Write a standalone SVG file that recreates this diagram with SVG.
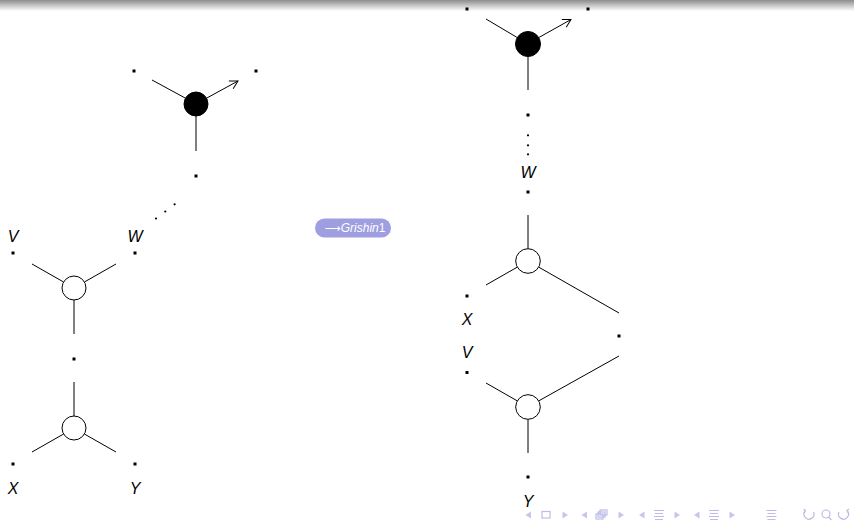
<svg xmlns="http://www.w3.org/2000/svg" width="854" height="522" viewBox="0 0 854 522">
<defs>
<linearGradient id="topbar" x1="0" y1="0" x2="0" y2="1">
<stop offset="0" stop-color="#8c8c8c"/>
<stop offset="1" stop-color="#ffffff"/>
</linearGradient>
<marker id="arr" markerWidth="12" markerHeight="12" refX="9" refY="6" orient="auto" markerUnits="userSpaceOnUse">
<path d="M1,1.5 L9,6 L1,10.5" fill="none" stroke="#000" stroke-width="1"/>
</marker>
</defs>
<style>
.e{stroke:#000;stroke-width:1;fill:none}
.w{fill:#fff;stroke:#000;stroke-width:1}
.b{fill:#000;stroke:#000;stroke-width:1}
.d{fill:#000}
.l{font-family:"Liberation Sans",Arial,sans-serif;font-style:italic;font-size:16px;text-anchor:middle;fill:#000}
.nav{fill:#c6c6ec;stroke:none}
.navs{fill:none;stroke:#bcbce8;stroke-width:1.2}
</style>
<rect x="0" y="0" width="854" height="11" fill="url(#topbar)"/>

<g id="connectors">
<line class="e" x1="152" y1="80" x2="185.5" y2="98.2"/>
<line class="e" x1="206.5" y1="98.2" x2="238" y2="81" marker-end="url(#arr)"/>
<line class="e" x1="196" y1="116" x2="196" y2="151"/>
<line class="e" x1="32" y1="264" x2="63.6" y2="282"/>
<line class="e" x1="116" y1="264" x2="84.4" y2="282"/>
<line class="e" x1="74" y1="300" x2="74" y2="334"/>
<line class="e" x1="74" y1="382" x2="74" y2="416"/>
<line class="e" x1="63.6" y1="434" x2="32" y2="452"/>
<line class="e" x1="84.4" y1="434" x2="116" y2="452"/>
<line class="e" x1="486" y1="19" x2="517.3" y2="37.6"/>
<line class="e" x1="538.7" y1="37.6" x2="571" y2="19.5" marker-end="url(#arr)"/>
<line class="e" x1="528" y1="56.5" x2="528" y2="90"/>
<line class="e" x1="528" y1="215" x2="528" y2="248.7"/>
<line class="e" x1="517.3" y1="267.1" x2="486" y2="285"/>
<line class="e" x1="538.7" y1="267.1" x2="619" y2="313"/>
<line class="e" x1="486" y1="383" x2="517.3" y2="400.9"/>
<line class="e" x1="538.7" y1="400.9" x2="619" y2="356"/>
<line class="e" x1="528" y1="419.3" x2="528" y2="453"/>
</g>

<g id="n-left-top"><circle class="b" cx="196" cy="104" r="12"/></g>
<g id="n-left-mid"><circle class="w" cx="74" cy="288" r="12"/></g>
<g id="n-left-bot"><circle class="w" cx="74" cy="428" r="12"/></g>
<g id="n-right-top"><circle class="b" cx="528" cy="44" r="12.5"/></g>
<g id="n-right-mid"><circle class="w" cx="528" cy="261" r="12.3"/></g>
<g id="n-right-bot"><circle class="w" cx="528" cy="407" r="12.3"/></g>

<g id="points">
<rect class="d" x="132.5" y="69.5" width="3" height="3"/>
<rect class="d" x="254.5" y="69.5" width="3" height="3"/>
<rect class="d" x="194.5" y="174.5" width="3" height="3"/>
<rect class="d" x="11.5" y="251.5" width="3" height="3"/>
<rect class="d" x="133.5" y="251.5" width="3" height="3"/>
<rect class="d" x="72.5" y="357.5" width="3" height="3"/>
<rect class="d" x="11.5" y="462.5" width="3" height="3"/>
<rect class="d" x="133.5" y="462.5" width="3" height="3"/>
<rect class="d" x="465.5" y="7.5" width="3" height="3"/>
<rect class="d" x="586.5" y="7.5" width="3" height="3"/>
<rect class="d" x="526.5" y="113.5" width="3" height="3"/>
<rect class="d" x="526.5" y="190.5" width="3" height="3"/>
<rect class="d" x="465.5" y="294.5" width="3" height="3"/>
<rect class="d" x="617.5" y="334.5" width="3" height="3"/>
<rect class="d" x="465.5" y="371" width="3" height="3"/>
<rect class="d" x="526.5" y="475.5" width="3" height="3"/>
<circle class="d" cx="156" cy="218.5" r="1.1"/>
<circle class="d" cx="165.3" cy="211.5" r="1.1"/>
<circle class="d" cx="174.6" cy="204.3" r="1.1"/>
<circle class="d" cx="528" cy="135.3" r="1.1"/>
<circle class="d" cx="528" cy="145.3" r="1.1"/>
<circle class="d" cx="528" cy="154.3" r="1.1"/>
</g>

<g id="labels">
<text class="l" x="13" y="242">V</text>
<text class="l" x="135" y="242">W</text>
<text class="l" x="13" y="494">X</text>
<text class="l" x="135" y="494">Y</text>
<text class="l" x="528" y="178">W</text>
<text class="l" x="467" y="325">X</text>
<text class="l" x="467" y="358">V</text>
<text class="l" x="528" y="507">Y</text>
</g>

<g id="button">
<rect x="315" y="218.5" width="76" height="19" rx="9.5" fill="#9e9ee0"/>
<text x="325" y="232" font-family="'Liberation Sans','DejaVu Sans',sans-serif" font-size="12" fill="#fff"><tspan font-family="'DejaVu Sans',sans-serif" font-size="11">⟶</tspan><tspan font-style="italic">Grishin</tspan>1</text>
</g>

<g id="nav">
<polygon class="nav" points="531,511.5 525.5,515 531,518.5"/>
<rect class="navs" x="542" y="511.5" width="8" height="6.5"/>
<polygon class="nav" points="562.5,511.5 568,515 562.5,518.5"/>
<polygon class="nav" points="587,511.5 581.5,515 587,518.5"/>
<rect class="navs" x="596" y="514" width="7" height="5"/>
<rect class="navs" x="598" y="512" width="7" height="5" fill="#fff"/>
<rect class="navs" x="600" y="510" width="7" height="5" fill="#fff"/>
<polygon class="nav" points="618.5,511.5 624,515 618.5,518.5"/>
<polygon class="nav" points="644.5,511.5 639,515 644.5,518.5"/>
<path class="navs" d="M654,510.5 h10 M655,513.5 h8 M654,516.5 h10 M655,519.5 h8"/>
<polygon class="nav" points="674.5,511.5 680,515 674.5,518.5"/>
<polygon class="nav" points="699.5,511.5 694,515 699.5,518.5"/>
<path class="navs" d="M709,510.5 h10 M710,513.5 h8 M709,516.5 h10 M710,519.5 h8"/>
<polygon class="nav" points="729.5,511.5 735,515 729.5,518.5"/>
<path class="navs" d="M766.5,510.5 h10 M767.5,513.5 h8 M766.5,516.5 h10 M767.5,519.5 h8"/>
<path class="navs" d="M805.5,510.5 A5,5 0 1 0 813.5,512 M803.5,509 l2,1.5 l-1,2.5"/>
<circle class="navs" cx="826" cy="514" r="4"/>
<path class="navs" d="M828.5,517 l3,3"/>
<path class="navs" d="M847,510.5 A5,5 0 1 1 839,512 M849,509 l-2,1.5 l1,2.5"/>
</g>
</svg>
